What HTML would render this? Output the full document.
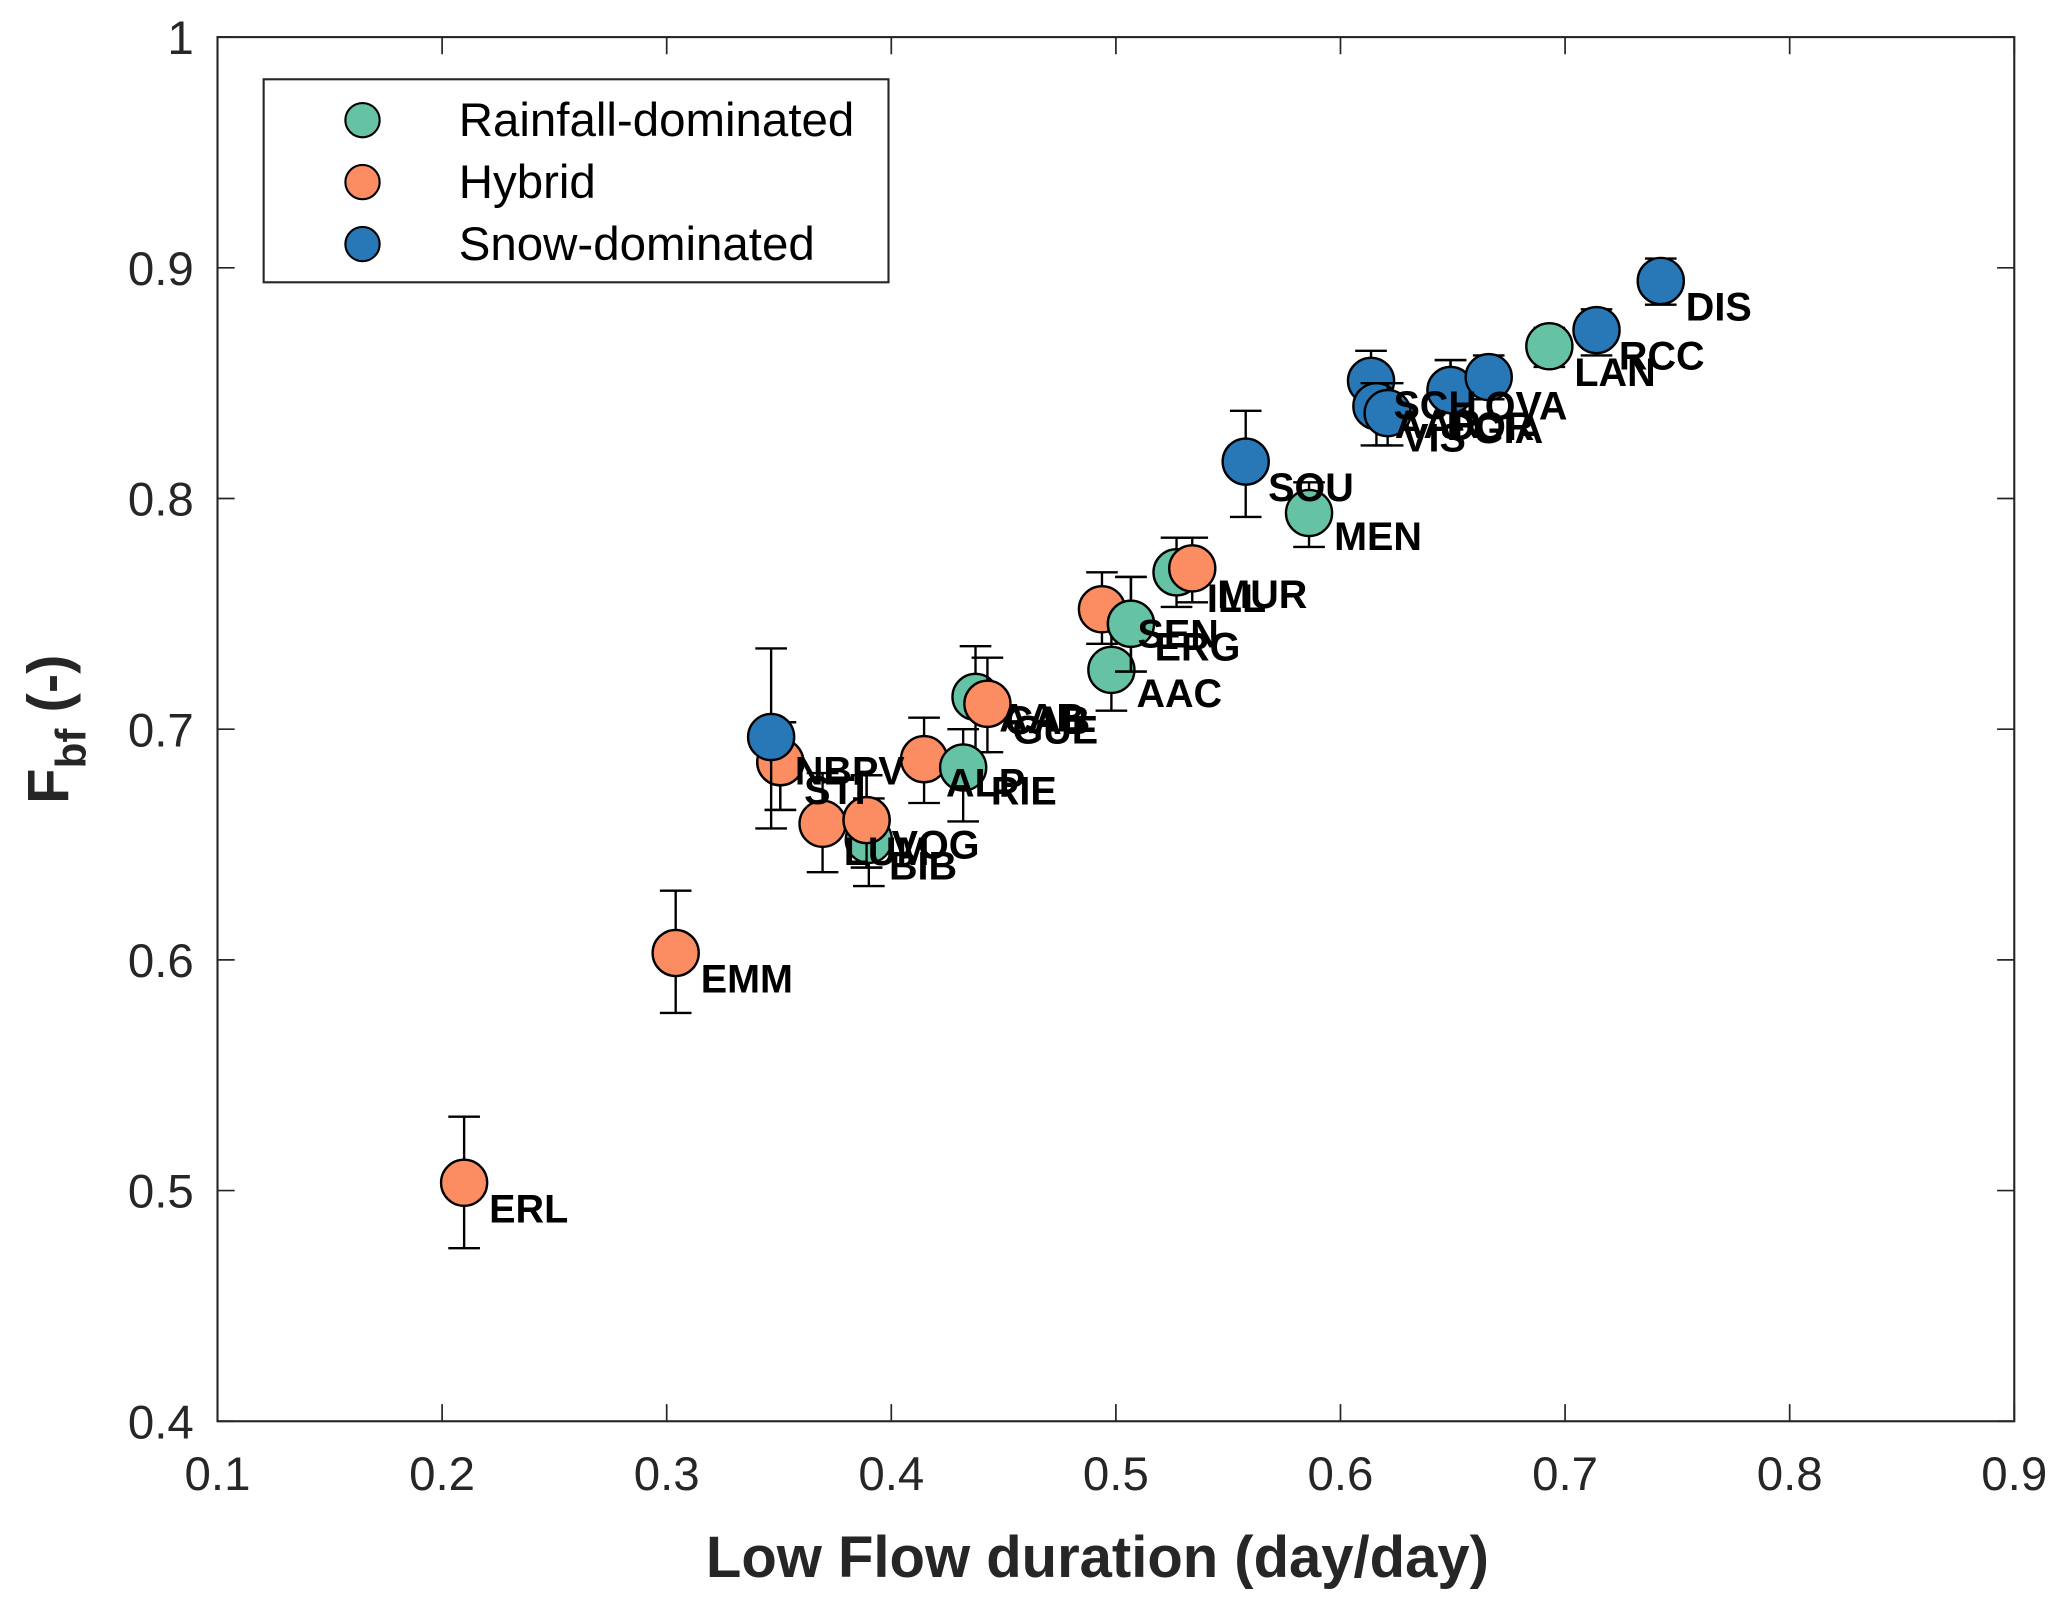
<!DOCTYPE html>
<html><head><meta charset="utf-8"><style>
html,body{margin:0;padding:0;background:#fff;}
svg{display:block;font-family:"Liberation Sans",Arial,sans-serif;}
</style></head><body>
<svg id="chart" width="2067" height="1606" viewBox="0 0 1568 1218" xmlns="http://www.w3.org/2000/svg">
<g id="plot"></g>
</svg>
<script>
const categories = ["Rainfall-dominated","Hybrid","Snow-dominated"];
const colors = ["#66c2a5","#fc8d62","#2878b8"];
const catchments = ["ERL","EMM","PV","NB","STI","VOG","LUM","BIB","ALP","ARB","ALP2","RIE","AAC","SEN2","ERG","SEN","ILL","MUR","MEN","SOU","SCH","ARG","GIA","VIS","DOR","OVA","LAN","RCC","DIS","NBPV"];
const seriesCat = [1,1,1,1,1,1,0,1,1,0,1,0,0,1,0,0,0,1,0,2,2,2,2,2,2,2,0,2,2,2];
const xValues = [0.2098,0.304,0.3506,0.3506,0.3694,0.389,0.390,0.389,0.4146,0.4375,0.4428,0.432,0.498,0.4938,0.5067,0.5067,0.527,0.534,0.586,0.5578,0.6136,0.616,0.621,0.649,0.649,0.666,0.693,0.714,0.7426,0.3465];
const yValues = [0.5034,0.603,0.6857,0.6857,0.659,0.6606,0.652,0.6606,0.687,0.714,0.711,0.6834,0.7257,0.752,0.7457,0.7457,0.768,0.7697,0.7937,0.816,0.851,0.840,0.837,0.847,0.847,0.8526,0.866,0.873,0.8943,0.6966];
const errLow = [0.475,0.577,0.665,0.665,0.638,0.640,0.632,0.640,0.668,0.690,0.690,0.660,0.708,0.737,0.725,0.725,0.753,0.755,0.779,0.792,0.838,0.823,0.823,0.838,0.838,0.843,0.857,0.862,0.884,0.657];
const errHigh = [0.532,0.630,0.703,0.703,0.681,0.680,0.670,0.680,0.705,0.736,0.731,0.700,0.743,0.768,0.766,0.766,0.783,0.783,0.807,0.838,0.864,0.850,0.850,0.860,0.860,0.862,0.874,0.882,0.904,0.735];
const xTicks = [0.1,0.2,0.3,0.4,0.5,0.6,0.7,0.8,0.9];
const xTickLabels = ["0.1","0.2","0.3","0.4","0.5","0.6","0.7","0.8","0.9"];
const yTicks = [0.4,0.5,0.6,0.7,0.8,0.9,1.0];
const yTickLabels = ["0.4","0.5","0.6","0.7","0.8","0.9","1"];
const labelTexts = ["ERL","EMM","NBPV","STI","LUM","VOG","BIB","ALP","RIE","AAB","GUE","CAB","AAC","SEN","ERG","ILL","MUR","MEN","SOU","SCH","DOR","OVA","AAR","VIS","GIA","LAN","RCC","DIS"];
const labelIdx   = [0,1,2,4,6,5,7,11,11,10,10,10,12,14,14,16,17,18,19,20,24,25,21,22,23,26,27,28];

const X0=165,X1=1528,Y0=1078,Y1=28;
const xs=v=>X0+(v-0.1)/(0.8)*(X1-X0);
const ys=v=>Y0-(v-0.4)/(0.6)*(Y0-Y1);
const NS="http://www.w3.org/2000/svg";
const g=document.getElementById('plot');
function mk(t,a,p){const e=document.createElementNS(NS,t);for(const k in a)e.setAttribute(k,a[k]);(p||g).appendChild(e);return e;}

let box=mk('rect',{x:X0,y:Y1,width:X1-X0,height:Y0-Y1,fill:'none',stroke:'#262626','stroke-width':1.6});


xTicks.forEach((t,i)=>{
  const x=xs(t);
  mk('line',{x1:x,x2:x,y1:Y0,y2:Y0-13,stroke:'#262626','stroke-width':1.3});
  mk('line',{x1:x,x2:x,y1:Y1,y2:Y1+13,stroke:'#262626','stroke-width':1.3});
  const tx=mk('text',{x:x,y:Y0+52,'text-anchor':'middle','font-size':36,fill:'#262626'});
  tx.textContent=xTickLabels[i];
  
  
});
yTicks.forEach((t,i)=>{
  const y=ys(t);
  mk('line',{x1:X0,x2:X0+13,y1:y,y2:y,stroke:'#262626','stroke-width':1.3});
  mk('line',{x1:X1,x2:X1-13,y1:y,y2:y,stroke:'#262626','stroke-width':1.3});
  const tx=mk('text',{x:X0-18,y:y+13,'text-anchor':'end','font-size':36,fill:'#262626'});
  tx.textContent=yTickLabels[i];
  
  
});
let xt=mk('text',{x:(X0+X1)/2-14,y:1196,'text-anchor':'middle','font-size':44,'font-weight':'bold',fill:'#262626'});
xt.textContent='Low Flow duration (day/day)';


let yt=mk('text',{transform:'translate(52,553) rotate(-90)','text-anchor':'middle','font-size':44,'font-weight':'bold',fill:'#262626'});
yt.innerHTML='F<tspan dy="13" font-size="32">bf</tspan><tspan dy="-13"> (-)</tspan>';



xValues.forEach((xv,i)=>{
  const x=xs(xv);
  const eg=mk('g',{});
  
  
  mk('line',{x1:x,x2:x,y1:ys(errLow[i]),y2:ys(errHigh[i]),stroke:'#000','stroke-width':1.8},eg);
  mk('line',{x1:x-12,x2:x+12,y1:ys(errLow[i]),y2:ys(errLow[i]),stroke:'#000','stroke-width':1.8},eg);
  mk('line',{x1:x-12,x2:x+12,y1:ys(errHigh[i]),y2:ys(errHigh[i]),stroke:'#000','stroke-width':1.8},eg);
  const c=mk('circle',{cx:x,cy:ys(yValues[i]),r:17.5,fill:colors[seriesCat[i]],stroke:'#000','stroke-width':1.8});
  
  
});
const ldx=[0,0,-8,-33,-38,0,-2,-32,2,-10,0,-6,0,-14,-1,4,0,0,-2,-2,-22,-22,-5,-8,-2,0,-2,0];
const ldy=[0,0,-13,-45,-11,-1,15,-8,-2,-9,0,-7,-2,-12,-2,0,0,-2,0,-1,8,2,-6,-1,10,0,0,0];
labelTexts.forEach((t,j)=>{
  const i=labelIdx[j];
  const tx=mk('text',{x:xs(xValues[i])+19+ldx[j],y:ys(yValues[i])+30+ldy[j],'font-size':30,'font-weight':'bold',fill:'#000'});
  tx.textContent=t;
  
  
});

const lg=mk('g',{});


mk('rect',{x:200,y:60,width:474,height:154,fill:'#fff',stroke:'#262626','stroke-width':1.6},lg);
categories.forEach((c,i)=>{
  const y=91+i*47;
  const e=mk('g',{},lg);
  
  
  mk('circle',{cx:275,cy:y,r:13,fill:colors[i],stroke:'#000','stroke-width':1.6},e);
  const t=mk('text',{x:348,y:y+12,'font-size':36,fill:'#000'},e);
  t.textContent=c;
});
</script>
</body></html>
